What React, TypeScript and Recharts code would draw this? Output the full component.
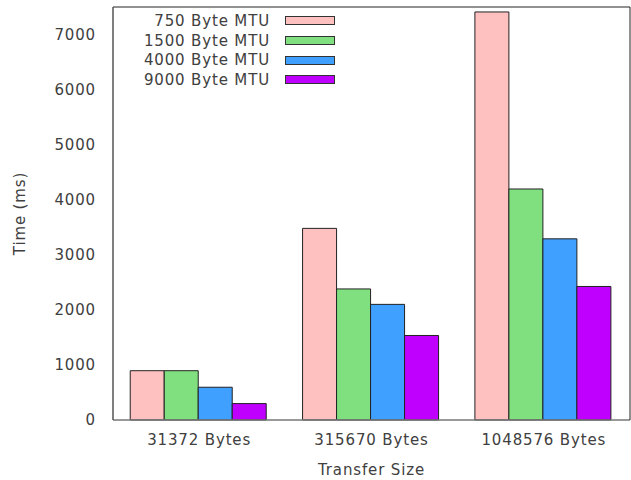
import { BarChart, Bar, XAxis, YAxis, Legend } from "recharts";

const sizes = ["31372 Bytes", "315670 Bytes", "1048576 Bytes"];
const mtu750 = [895, 3480, 7410];
const mtu1500 = [895, 2380, 4195];
const mtu4000 = [595, 2100, 3290];
const mtu9000 = [298, 1535, 2425];
const yTicks = [0, 1000, 2000, 3000, 4000, 5000, 6000, 7000];

const seriesNames = ["750 Byte MTU", "1500 Byte MTU", "4000 Byte MTU", "9000 Byte MTU"];
const seriesColors = ["#ffc0c0", "#80e080", "#40a0ff", "#c000ff"];

const data = sizes.map((name, i) => ({
    name,
    m750: mtu750[i],
    m1500: mtu1500[i],
    m4000: mtu4000[i],
    m9000: mtu9000[i],
}));
const keys = ["m750", "m1500", "m4000", "m9000"];

const font = "'DejaVu Sans', sans-serif";
const textColor = "#404040";
const spacing = 0.85;

function LegendBox() {
    return (
        <div style={{ fontFamily: font, fontSize: 15, color: textColor, letterSpacing: spacing }}>
            {seriesNames.map((n, i) => (
                <div key={n} style={{ display: "flex", alignItems: "center", height: 19.7 }}>
                    <span style={{ width: 270, textAlign: "right", whiteSpace: "nowrap" }}>{n}</span>
                    <span
                        style={{
                            marginLeft: 15,
                            width: 50,
                            height: 9,
                            boxSizing: "border-box",
                            border: "1.5px solid #333",
                            background: seriesColors[i],
                        }}
                    />
                </div>
            ))}
        </div>
    );
}

export default function App() {
    return (
        <div style={{ position: "absolute", left: 0, top: 0, background: "#fff" }}>
            <BarChart
                width={631}
                height={480}
                data={data}
                margin={{ top: 7, right: 1, bottom: 0, left: 0 }}
                barCategoryGap="10%"
                barGap={0}
            >
                <XAxis
                    dataKey="name"
                    height={60}
                    tickLine={false}
                    tickSize={6}
                    tickMargin={8}
                    axisLine={{ stroke: "#777", strokeWidth: 1.5 }}
                    tick={{ fill: textColor, fontSize: 15, fontFamily: font, letterSpacing: spacing }}
                    label={{
                        value: "Transfer Size",
                        position: "insideBottom",
                        offset: 5,
                        fill: textColor,
                        fontSize: 15,
                        fontFamily: font,
                        letterSpacing: spacing,
                    }}
                />
                <XAxis
                    xAxisId="top"
                    dataKey="name"
                    orientation="top"
                    mirror
                    tick={false}
                    tickSize={4}
                    tickLine={{ stroke: "#666" }}
                    axisLine={{ stroke: "#222" }}
                />
                <YAxis
                    width={113}
                    domain={[0, 7500]}
                    ticks={yTicks}
                    tickLine={false}
                    tickSize={6}
                    tickMargin={11}
                    axisLine={{ stroke: "#555", strokeWidth: 1.5 }}
                    tick={{ fill: textColor, fontSize: 15, fontFamily: font, letterSpacing: spacing }}
                    label={{
                        value: "Time (ms)",
                        angle: -90,
                        position: "insideLeft",
                        offset: 20,
                        fill: textColor,
                        fontSize: 15,
                        fontFamily: font,
                        letterSpacing: spacing,
                        style: { textAnchor: "middle" },
                    }}
                />
                <YAxis
                    yAxisId="leftTicks"
                    orientation="left"
                    mirror
                    domain={[0, 7500]}
                    allowDataOverflow
                    ticks={yTicks}
                    tick={false}
                    tickSize={5}
                    tickLine={{ stroke: "#555" }}
                    axisLine={false}
                />
                <YAxis
                    yAxisId="right"
                    orientation="right"
                    mirror
                    domain={[0, 7500]}
                    allowDataOverflow
                    ticks={yTicks}
                    tick={false}
                    tickSize={5}
                    tickLine={{ stroke: "#555" }}
                    axisLine={{ stroke: "#222" }}
                />
                <Legend
                    layout="vertical"
                    align="center"
                    verticalAlign="middle"
                    wrapperStyle={{ top: 11, left: 0, width: 400 }}
                    content={() => <LegendBox />}
                />
                {keys.map((k, i) => (
                    <Bar
                        key={k}
                        dataKey={k}
                        name={seriesNames[i]}
                        fill={seriesColors[i]}
                        stroke="#222"
                        strokeWidth={1}
                        isAnimationActive={false}
                    />
                ))}
            </BarChart>
        </div>
    );
}
